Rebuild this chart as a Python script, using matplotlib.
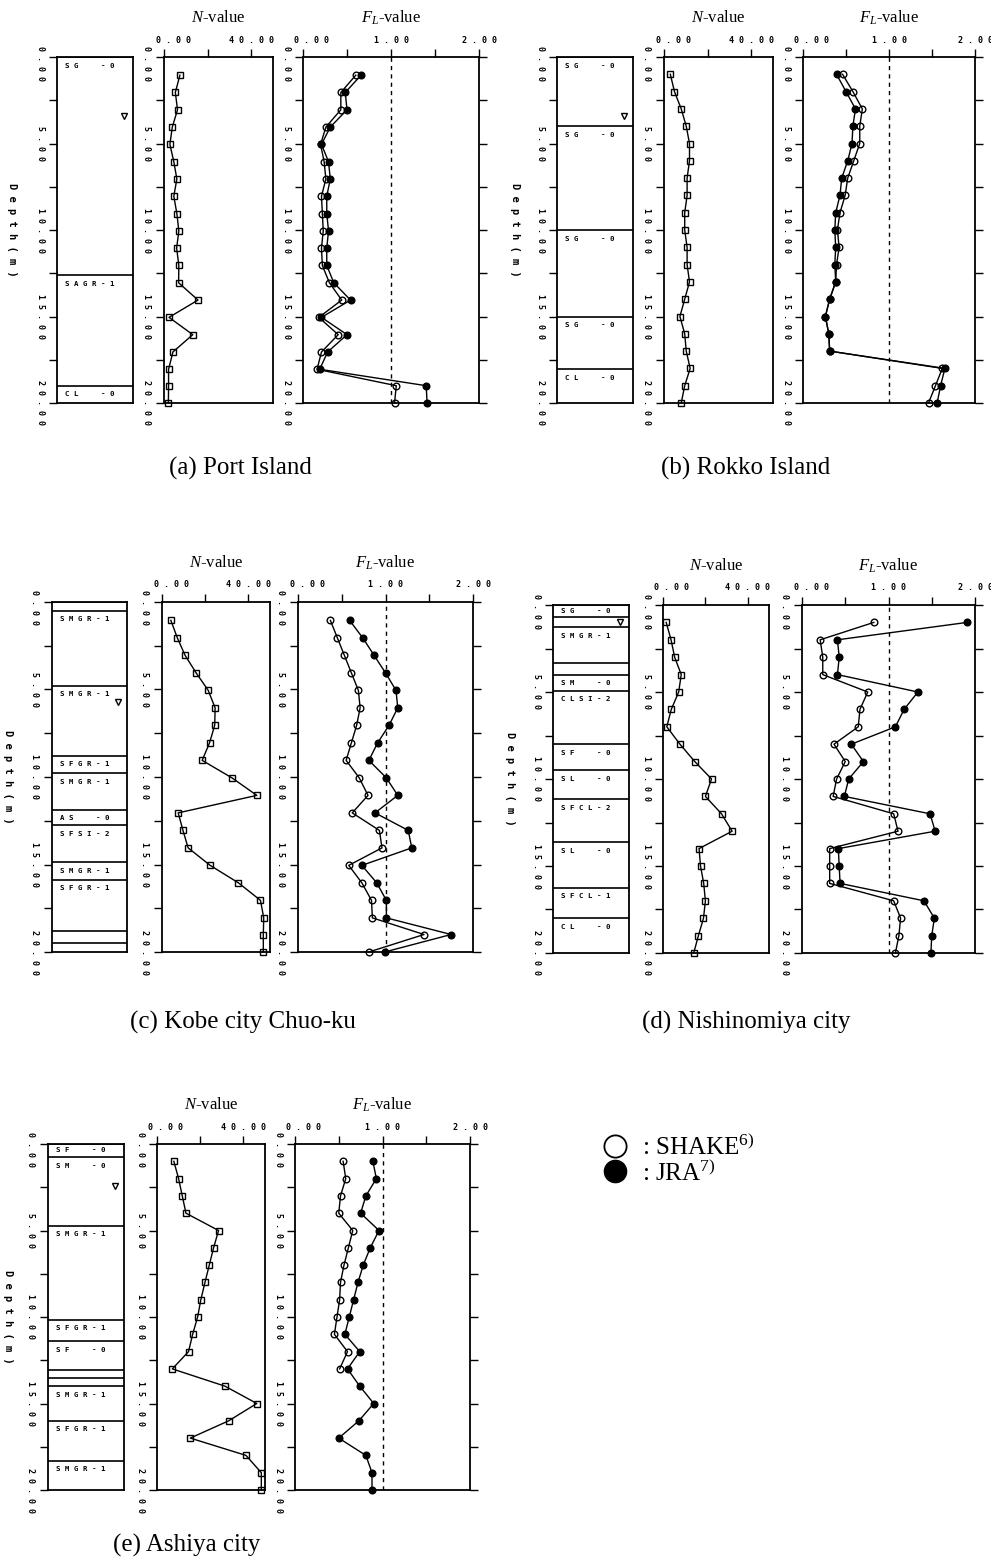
#!/usr/bin/env python3
"""Liquefaction profiles: soil column, SPT N-value and F_L-value versus depth
for five sites (SHAKE vs JRA)."""

import matplotlib

matplotlib.use("Agg")
import matplotlib.pyplot as plt
from matplotlib.lines import Line2D
from matplotlib.transforms import ScaledTranslation

plt.rcParams["mathtext.fontset"] = "custom"
plt.rcParams["mathtext.rm"] = "Liberation Serif"
plt.rcParams["mathtext.it"] = "Liberation Serif:italic"
plt.rcParams["font.family"] = ["DejaVu Sans Mono"]

# ── Data ──────────────────────────────────────────────────────────────────
DEPTH_1 = [1.05, 2.05, 3.05, 4.05, 5.05, 6.05, 7.05, 8.05, 9.05, 10.05,
           11.05, 12.05, 13.05, 14.05, 15.05, 16.05, 17.05, 18.05, 19.0, 20.0]
DEPTH_2 = [1.0, 2.0, 3.0, 4.0, 5.0, 6.0, 7.0, 8.0, 9.0, 10.0,
           11.0, 12.0, 13.0, 14.0, 15.0, 16.0, 17.0, 18.0, 19.0, 20.0]

# (a) Port Island
PI_N = [7.3, 5.2, 6.2, 3.8, 2.7, 4.5, 5.9, 4.5, 5.9, 6.8,
        5.8, 6.8, 6.7, 15.6, 2.3, 13.2, 4.1, 2.1, 2.1, 2.0]
PI_SHAKE = [0.60, 0.43, 0.43, 0.26, 0.20, 0.24, 0.26, 0.21, 0.22, 0.23,
            0.21, 0.22, 0.30, 0.44, 0.18, 0.40, 0.21, 0.16, 1.06, 1.04]
PI_JRA = [0.66, 0.48, 0.50, 0.31, 0.21, 0.29, 0.31, 0.27, 0.27, 0.29,
          0.27, 0.27, 0.35, 0.54, 0.21, 0.50, 0.28, 0.19, 1.40, 1.41]
PI_LAYER_TOP = [0.0, 12.6, 19.0]
PI_LAYER_NAME = ["SG  -0", "SAGR-1", "CL  -0"]
PI_GWL = 3.4

# (b) Rokko Island
RI_N = [2.9, 4.8, 7.9, 10.2, 11.7, 11.7, 10.6, 10.6, 9.5, 9.5,
        10.6, 10.6, 11.7, 9.5, 7.3, 9.5, 10.2, 12.0, 9.5, 7.9]
RI_SHAKE = [0.46, 0.58, 0.69, 0.66, 0.66, 0.59, 0.52, 0.49, 0.43, 0.40,
            0.42, 0.39, 0.38, 0.31, 0.26, 0.30, 0.31, 1.62, 1.54, 1.46]
RI_JRA = [0.39, 0.50, 0.61, 0.58, 0.57, 0.52, 0.45, 0.43, 0.38, 0.37,
          0.38, 0.37, 0.38, 0.31, 0.26, 0.30, 0.31, 1.65, 1.60, 1.56]
RI_LAYER_TOP = [0.0, 4.0, 10.0, 15.0, 18.05]
RI_LAYER_NAME = ["SG  -0", "SG  -0", "SG  -0", "SG  -0", "CL  -0"]
RI_GWL = 3.4

# (c) Kobe city Chuo-ku
KC_N = [4.1, 7.1, 10.7, 15.8, 21.4, 24.6, 24.4, 22.0, 18.6, 32.4,
        43.9, 7.5, 9.7, 12.1, 22.3, 35.4, 45.6, 47.1, 46.9, 46.9]
KC_SHAKE = [0.37, 0.45, 0.53, 0.61, 0.69, 0.71, 0.67, 0.61, 0.55, 0.70,
            0.80, 0.62, 0.93, 0.96, 0.58, 0.73, 0.84, 0.85, 1.44, 0.81]
KC_JRA = [0.59, 0.74, 0.87, 1.00, 1.12, 1.14, 1.04, 0.91, 0.81, 1.01,
          1.14, 0.88, 1.26, 1.30, 0.73, 0.90, 1.01, 1.01, 1.75, 0.99]
KC_LAYER_TOP = [0.0, 0.5, 4.78, 8.78, 9.77, 11.87, 12.76, 14.88, 15.87, 18.78, 19.49]
KC_LAYER_NAME = ["", "SMGR-1", "SMGR-1", "SFGR-1", "SMGR-1", "AS  -0",
                 "SFSI-2", "SMGR-1", "SFGR-1", "", ""]
KC_GWL = 5.7

# (d) Nishinomiya city
NS_N = [1.5, 3.8, 5.5, 8.6, 7.4, 3.9, 1.8, 8.0, 15.0, 22.9,
        20.0, 27.6, 32.6, 17.0, 17.7, 19.2, 20.0, 19.1, 16.7, 14.5]
NS_SHAKE = [0.83, 0.21, 0.24, 0.24, 0.76, 0.67, 0.65, 0.37, 0.50, 0.40,
            0.36, 1.06, 1.11, 0.32, 0.32, 0.32, 1.06, 1.14, 1.12, 1.08]
NS_JRA = [1.91, 0.41, 0.43, 0.41, 1.34, 1.18, 1.08, 0.57, 0.71, 0.54,
          0.49, 1.48, 1.54, 0.42, 0.43, 0.44, 1.41, 1.53, 1.50, 1.49]
NS_LAYER_TOP = [0.0, 0.67, 1.28, 3.35, 4.0, 4.92, 7.98, 9.51, 11.16, 13.61, 16.25, 18.0]
NS_LAYER_NAME = ["SG  -0", "", "SMGR-1", "", "SM  -0", "CLSI-2", "SF  -0",
                 "SL  -0", "SFCL-2", "SL  -0", "SFCL-1", "CL  -0"]
NS_GWL = 0.95

# (e) Ashiya city
AS_N = [7.8, 10.0, 11.7, 13.4, 28.5, 26.2, 24.2, 22.2, 20.3, 18.8,
        16.5, 14.6, 7.1, 31.5, 46.2, 33.2, 15.4, 41.2, 48.3, 48.3]
AS_SHAKE = [0.55, 0.58, 0.52, 0.50, 0.66, 0.61, 0.56, 0.52, 0.51, 0.48,
            0.45, 0.60, 0.51]
AS_JRA = [0.89, 0.93, 0.81, 0.75, 0.96, 0.86, 0.78, 0.72, 0.67, 0.62,
          0.57, 0.74, 0.60, 0.74, 0.90, 0.73, 0.50, 0.81, 0.88, 0.88]
AS_LAYER_TOP = [0.0, 0.75, 4.73, 10.16, 11.38, 13.06, 13.54, 13.98, 15.99, 18.3]
AS_LAYER_NAME = ["SF  -0", "SM  -0", "SMGR-1", "SFGR-1", "SF  -0", "", "",
                 "SMGR-1", "SFGR-1", "SMGR-1"]
AS_GWL = 2.45

DEPTH_TICKS = [0, 2.5, 5, 7.5, 10, 12.5, 15, 17.5, 20]
DEPTH_TICK_LABELS = ["0.00", "", "5.00", "", "10.00", "", "15.00", "", "20.00"]
N_TICKS = [0, 20, 40]
N_TICK_LABELS = ["0.00", "", "40.00"]
FL_TICKS = [0, 0.5, 1.0, 1.5, 2.0]
FL_TICK_LABELS = ["0.00", "", "1.00", "", "2.00"]

# ── Layout (pixels in a 991 x 1566 canvas) ─────────────────────────────────
W, H = 991, 1566
SERIF = "Liberation Serif"
MONO = "DejaVu Sans Mono"
TICK_FS = 6.0


def spaced(s):
    return " ".join(s)


def px_axes(fig, x0, x1, y0, y1):
    return fig.add_axes([x0 / W, 1 - y1 / H, (x1 - x0) / W, (y1 - y0) / H])


def nudge(fig, text, dx, dy):
    # shift a text by (dx, dy) pixels; dy > 0 moves it down
    text.set_transform(text.get_transform()
                       + ScaledTranslation(dx / 100, -dy / 100, fig.dpi_scale_trans))


def depth_axis(fig, ax):
    ax.set_ylim(20, 0)
    ax.set_yticks(DEPTH_TICKS)
    ax.set_yticklabels([spaced(s) for s in DEPTH_TICK_LABELS], rotation=-90,
                       va="center", fontsize=TICK_FS, fontweight="bold",
                       family=MONO)
    ax.tick_params(axis="y", direction="out", length=6, width=1.0, pad=3)
    for sp in ax.spines.values():
        sp.set_linewidth(1.3)
    nudge(fig, ax.yaxis.get_major_ticks()[0].label1, 0, 6)


def top_axis(fig, ax, ticks, labels):
    ax.xaxis.tick_top()
    ax.set_xticks(ticks)
    ax.set_xticklabels([spaced(s) for s in labels], fontsize=TICK_FS,
                       fontweight="bold", family=MONO)
    ax.tick_params(axis="x", direction="out", length=6, width=1.0, pad=3)
    nudge(fig, ax.xaxis.get_major_ticks()[0].label2, 9, 0)


def draw_site(fig, geom, depth, n, shake, jra, tops, names, gwl, caption):
    col, nx, flx, y0, y1, cap_x, cap_y, lab_x = geom

    # Soil column
    ax_c = px_axes(fig, col[0], col[1], y0, y1)
    ax_c.set_xlim(0, 1)
    depth_axis(fig, ax_c)
    ax_c.set_xticks([])
    bounds = tops + [20.0]
    for i, name in enumerate(names):
        ax_c.axhline(tops[i], color="black", lw=1.2)
        thick = bounds[i + 1] - bounds[i]
        if name:
            ax_c.text(0.1, tops[i] + min(0.5, thick / 2), spaced(name),
                      fontsize=5.3, fontweight="bold", family=MONO,
                      va="center", ha="left")
    ax_c.plot([0.88], [gwl], marker="v", ms=5, mfc="none", mec="black",
              mew=1.0, ls="none")
    fig.text(lab_x / W, 1 - (y0 + y1) / 2 / H, spaced("Depth(m)"),
             rotation=-90, va="center", ha="center", fontsize=7.5,
             fontweight="bold", family=MONO)

    # N-value
    ax_n = px_axes(fig, nx[0], nx[1], y0, y1)
    ax_n.set_xlim(0, 50)
    depth_axis(fig, ax_n)
    top_axis(fig, ax_n, N_TICKS, N_TICK_LABELS)
    ax_n.plot(n, depth[:len(n)], color="black", lw=1.0, marker="s", ms=4.5,
              mfc="none", mec="black", mew=1.0, clip_on=False)
    ax_n.set_title("$N$-value", family=SERIF, fontsize=12, pad=25)

    # F_L-value
    ax_f = px_axes(fig, flx[0], flx[1], y0, y1)
    ax_f.set_xlim(0, 2)
    depth_axis(fig, ax_f)
    top_axis(fig, ax_f, FL_TICKS, FL_TICK_LABELS)
    ax_f.tick_params(axis="y", right=True)
    ax_f.axvline(1.0, color="black", lw=1.0, ls=(0, (3, 3)))
    ax_f.plot(shake, depth[:len(shake)], color="black", lw=1.0, marker="o",
              ms=4.8, mfc="none", mec="black", mew=1.0, clip_on=False,
              zorder=3)
    ax_f.plot(jra, depth[:len(jra)], color="black", lw=1.0, marker="o",
              ms=4.8, mfc="black", mec="black", clip_on=False, zorder=4)
    ax_f.set_title("$F_L$-value", family=SERIF, fontsize=12, pad=25)

    fig.text(cap_x / W, 1 - cap_y / H, caption, family=SERIF, fontsize=18,
             ha="center", va="center")


def main():
    fig = plt.figure(figsize=(W / 100, H / 100), dpi=100)

    draw_site(fig, ((57, 133), (164, 273), (303, 479), 57, 403, 240, 468, 12),
              DEPTH_1, PI_N, PI_SHAKE, PI_JRA, PI_LAYER_TOP, PI_LAYER_NAME,
              PI_GWL, "(a) Port Island")
    draw_site(fig, ((557, 633), (664, 773), (803, 975), 57, 403, 746, 468, 515),
              DEPTH_2, RI_N, RI_SHAKE, RI_JRA, RI_LAYER_TOP, RI_LAYER_NAME,
              RI_GWL, "(b) Rokko Island")
    draw_site(fig, ((52, 127), (162, 270), (298, 473), 602, 952, 243, 1022, 8),
              DEPTH_1, KC_N, KC_SHAKE, KC_JRA, KC_LAYER_TOP, KC_LAYER_NAME,
              KC_GWL, "(c) Kobe city Chuo-ku")
    draw_site(fig, ((553, 629), (663, 769), (802, 975), 605, 953, 746, 1022, 510),
              DEPTH_2, NS_N, NS_SHAKE, NS_JRA, NS_LAYER_TOP, NS_LAYER_NAME,
              NS_GWL, "(d) Nishinomiya city")
    draw_site(fig, ((48, 124), (157, 265), (295, 470), 1144, 1490, 187, 1545, 8),
              DEPTH_2, AS_N, AS_SHAKE, AS_JRA, AS_LAYER_TOP, AS_LAYER_NAME,
              AS_GWL, "(e) Ashiya city")

    handles = [
        Line2D([], [], ls="none", marker="o", ms=16, mfc="none", mec="black", mew=1.3),
        Line2D([], [], ls="none", marker="o", ms=16, mfc="black", mec="black"),
    ]
    fig.legend(handles, [": SHAKE$^{6)}$", ": JRA$^{7)}$"], loc="upper left",
               bbox_to_anchor=(590 / W, 1 - 1122 / H), frameon=False,
               prop={"family": SERIF, "size": 18}, handlelength=1.0,
               handletextpad=0.6, labelspacing=0.0, borderpad=0)

    fig.savefig("out.png", dpi=100)
    plt.close(fig)


if __name__ == "__main__":
    main()
